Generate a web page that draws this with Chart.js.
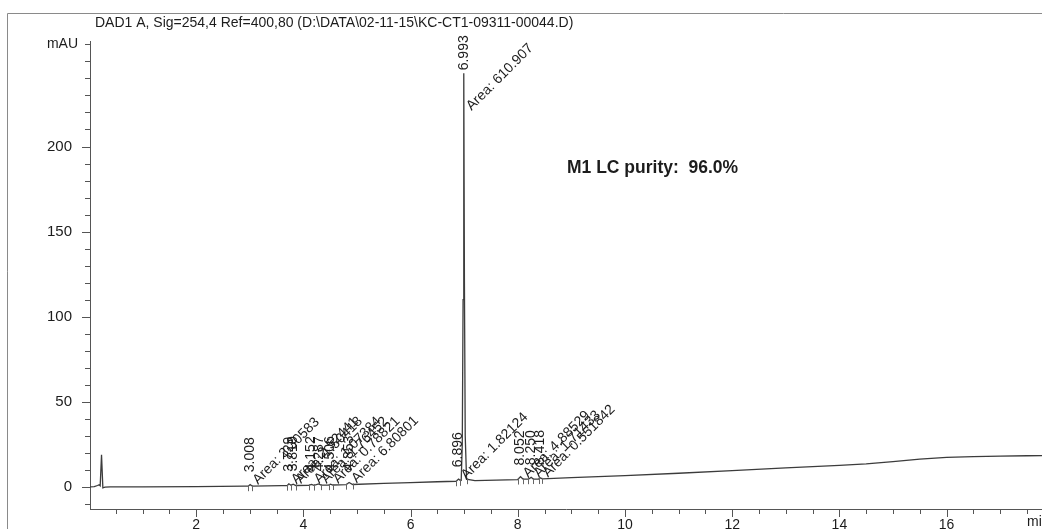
<!DOCTYPE html>
<html>
<head>
<meta charset="utf-8">
<script src="https://cdn.jsdelivr.net/npm/chart.js@4.4.1/dist/chart.umd.min.js"></script>
<style>
  html, body { margin: 0; padding: 0; background: #fff; }
  #wrap { width: 1042px; height: 529px; position: relative; }
</style>
</head>
<body>
<div id="wrap"><canvas id="chromatogram" width="1042" height="529"></canvas></div>
<script>
// detector trace between the labelled apexes (min, mAU)
const signalTime = [0.02, 0.10, 0.16, 0.19, 0.21, 0.235, 0.26, 0.30, 0.40, 1.0, 2.0, 2.90, 2.97, 3.05,
  3.60, 3.70, 3.77, 3.86, 4.10, 4.20, 4.33, 4.47, 4.55, 4.80, 4.92, 5.5, 6.0, 6.5, 6.85, 6.93,
  6.945, 6.965, 6.98, 7.005, 7.02, 7.045, 7.2, 7.6, 8.0, 8.10, 8.20, 8.29, 8.39, 8.46,
  9.0, 10, 11, 12, 13, 14, 14.5, 15, 15.5, 16, 16.5, 17, 17.5, 17.78];
const signalMau = [0.0, 0.1, 0.8, 1.2, 0.6, 18.8, -0.6, -0.2, 0.0, 0.0, 0.2, 0.4, 0.4, 0.4,
  0.7, 0.7, 0.9, 0.8, 0.9, 0.9, 1.0, 1.0, 1.1, 1.3, 1.4, 2.0, 2.5, 3.0, 3.3, 3.7,
  3.8, 25, 110, 120, 30, 4.5, 3.7, 4.0, 4.3, 4.5, 4.5, 4.6, 4.6, 4.7,
  5.4, 6.6, 8.0, 9.6, 11.2, 12.6, 13.5, 14.8, 16.3, 17.3, 17.8, 18.1, 18.3, 18.4];

// integrated peaks
const peakRt = [3.008, 3.729, 3.810, 4.152, 4.287, 4.506, 4.853, 6.896, 6.993, 8.052, 8.250, 8.418];
const peakTop = [1.3, 1.8, 1.6, 1.5, 1.7, 1.6, 2.6, 4.6, 243, 6.0, 5.6, 5.3];
const peakArea = [3.30583, 2.52441, 1.50418, 1.07384, 1.76452, 0.78821, 6.80801, 1.82124, 610.907, 4.88529, 1.71433, 0.551842];
const peakStart = [2.97, 3.70, 3.77, 4.10, 4.20, 4.47, 4.80, 6.85, 6.93, 8.00, 8.20, 8.39];
const peakEnd = [3.05, 3.77, 3.86, 4.20, 4.33, 4.55, 4.92, 6.93, 7.045, 8.10, 8.29, 8.46];

const xLabels = [2, 4, 6, 8, 10, 12, 14, 16];
const yLabels = [0, 50, 100, 150, 200];

const FONT = '"Liberation Sans", Arial, sans-serif';
const INK = '#1c1c1c';

function signalAt(t) {
    for (let i = 1; i < signalTime.length; i++) {
        if (signalTime[i] >= t) {
            const f = (t - signalTime[i - 1]) / (signalTime[i] - signalTime[i - 1]);
            return signalMau[i - 1] + f * (signalMau[i] - signalMau[i - 1]);
        }
    }
    return signalMau[signalMau.length - 1];
}

const traceData = signalTime.map((t, i) => ({ x: t, y: signalMau[i] }))
    .concat(peakRt.map((t, i) => ({ x: t, y: peakTop[i] })))
    .sort((a, b) => a.x - b.x);

// page frame, header and loose texts
const framePlugin = {
    id: 'frame',
    beforeDraw(chart) {
        const ctx = chart.ctx;
        ctx.save();
        ctx.fillStyle = '#fff';
        ctx.fillRect(0, 0, chart.width, chart.height);
        ctx.strokeStyle = '#8a8a8a';
        ctx.lineWidth = 1;
        ctx.beginPath();
        ctx.moveTo(7.5, chart.height);
        ctx.lineTo(7.5, 13.5);
        ctx.lineTo(chart.width, 13.5);
        ctx.stroke();
        ctx.restore();
    },
    afterDraw(chart) {
        const ctx = chart.ctx;
        const { y } = chart.scales;
        ctx.save();
        ctx.fillStyle = INK;
        ctx.textBaseline = 'middle';
        ctx.font = '14px ' + FONT;
        ctx.textAlign = 'left';
        ctx.fillText('DAD1 A, Sig=254,4 Ref=400,80 (D:\\DATA\\02-11-15\\KC-CT1-09311-00044.D)', 95, 23);
        ctx.textAlign = 'right';
        ctx.fillText('mAU', 78, y.getPixelForValue(260));
        ctx.textAlign = 'left';
        ctx.fillText('min', 1027, 522);
        ctx.font = 'bold 17.5px ' + FONT;
        ctx.fillText('M1 LC purity:  96.0%', 567, 168);
        ctx.restore();
    }
};

// axis tick marks, long at labelled values
const tickPlugin = {
    id: 'tickMarks',
    afterDraw(chart) {
        const ctx = chart.ctx;
        const { x, y } = chart.scales;
        ctx.save();
        ctx.strokeStyle = '#555';
        ctx.lineWidth = 1;
        ctx.beginPath();
        x.ticks.forEach(t => {
            const px = Math.round(x.getPixelForValue(t.value)) + 0.5;
            const len = xLabels.includes(t.value) ? 8 : 5;
            ctx.moveTo(px, x.top);
            ctx.lineTo(px, x.top + len);
        });
        y.ticks.forEach(t => {
            const py = Math.round(y.getPixelForValue(t.value)) + 0.5;
            const len = yLabels.includes(t.value) ? 8 : 5;
            ctx.moveTo(y.right, py);
            ctx.lineTo(y.right - len, py);
        });
        ctx.stroke();
        ctx.restore();
    }
};

// retention times, areas and integration marks
const peakPlugin = {
    id: 'peakLabels',
    afterDatasetsDraw(chart) {
        const ctx = chart.ctx;
        const { x, y } = chart.scales;
        ctx.save();
        ctx.strokeStyle = '#666';
        ctx.lineWidth = 1;
        ctx.beginPath();
        peakStart.concat(peakEnd).forEach(t => {
            const px = Math.round(x.getPixelForValue(t)) + 0.5;
            const py = y.getPixelForValue(signalAt(t));
            ctx.moveTo(px, py - 1);
            ctx.lineTo(px, py + 5);
        });
        ctx.stroke();

        ctx.fillStyle = INK;
        ctx.font = '14px ' + FONT;
        ctx.textAlign = 'left';
        ctx.textBaseline = 'middle';
        peakRt.forEach((rt, i) => {
            const px = x.getPixelForValue(rt);
            const py = y.getPixelForValue(peakTop[i]);
            const base = y.getPixelForValue(signalAt(peakStart[i]));
            ctx.save();
            ctx.translate(px, Math.min(py - 3, base - 14));
            ctx.rotate(-Math.PI / 2);
            ctx.fillText(rt.toFixed(3), 0, 0);
            ctx.restore();

            ctx.save();
            ctx.translate(px + 5, Math.min(py + 35, base - 4));
            ctx.rotate(-Math.PI / 4);
            ctx.fillText('Area: ' + peakArea[i], 0, 0);
            ctx.restore();
        });
        ctx.restore();
    }
};

function renderChromatogram() {
    const ctx = document.getElementById('chromatogram');
    new Chart(ctx, {
        type: 'line',
        data: {
            datasets: [{
                data: traceData,
                borderColor: '#3c3c3c',
                borderWidth: 1.3,
                pointRadius: 0,
                tension: 0,
                fill: false,
            }]
        },
        options: {
            responsive: false,
            animation: false,
            events: [],
            layout: { padding: { top: 41, left: 0, right: 0, bottom: 0 } },
            plugins: { legend: { display: false }, tooltip: { enabled: false } },
            scales: {
                x: {
                    type: 'linear',
                    min: 0.02,
                    max: 17.78,
                    grid: { display: false },
                    border: { display: true, color: '#555', width: 1 },
                    ticks: {
                        stepSize: 0.5,
                        includeBounds: false,
                        autoSkip: false,
                        maxRotation: 0,
                        padding: 0,
                        color: INK,
                        font: { family: FONT, size: 14 },
                        callback: v => xLabels.includes(v) ? String(v) : ''
                    },
                    afterFit(scale) { scale.height = 20; }
                },
                y: {
                    min: -13,
                    max: 262,
                    grid: { display: false },
                    border: { display: true, color: '#555', width: 1 },
                    ticks: {
                        stepSize: 10,
                        includeBounds: false,
                        autoSkip: false,
                        padding: 10,
                        color: INK,
                        font: { family: FONT, size: 15 },
                        callback: v => yLabels.includes(v) ? String(v) : ''
                    },
                    afterFit(scale) { scale.width = 90; }
                }
            }
        },
        plugins: [framePlugin, tickPlugin, peakPlugin]
    });
}

renderChromatogram();
</script>
</body>
</html>
